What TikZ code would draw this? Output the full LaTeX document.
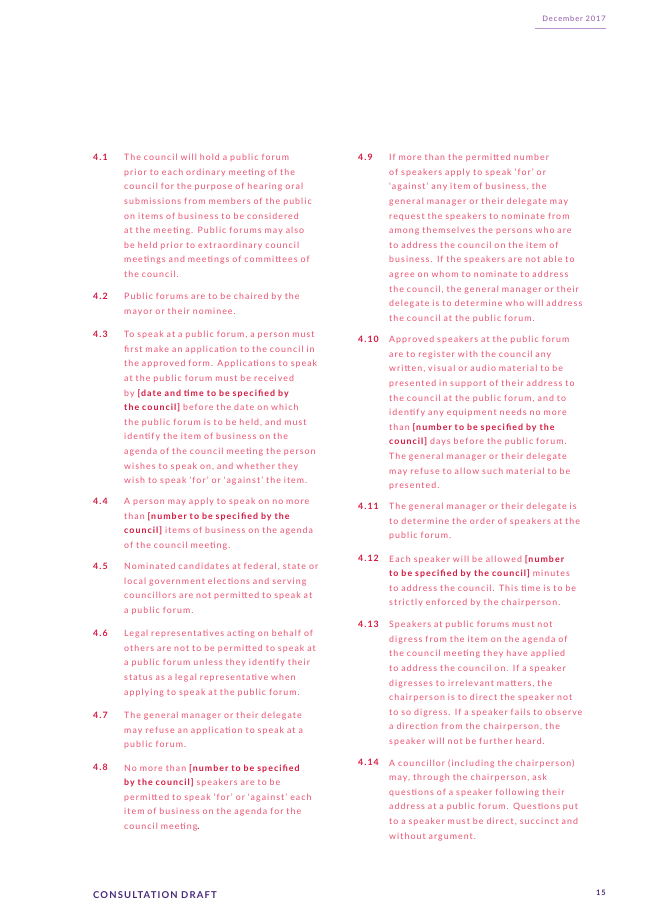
\documentclass[tikz,border=0pt]{standalone}
\usepackage{fontspec}
\setmainfont{Lato}[LetterSpace=12]
\definecolor{body}{HTML}{E8506E}
\definecolor{bold}{HTML}{D4173F}
\definecolor{purp}{HTML}{8B4FA8}
\definecolor{navy}{HTML}{4A2A7A}
\newcommand{\bb}[1]{{\bfseries\color{bold}#1}}
\tikzset{x=1pt,y=-1pt,
 num/.style={anchor=north west,inner sep=0pt,font=\fontsize{8.8}{14.6}\selectfont\bfseries,text=bold},
 txt/.style={anchor=north west,inner sep=0pt,align=left,text width=245pt,font=\fontsize{8.8}{14.6}\selectfont,text=body}}
\begin{document}
\begin{tikzpicture}
\useasboundingbox (0,0) rectangle (653,924);
\node[anchor=east,inner sep=0pt,font=\fontsize{7.5}{9}\selectfont,text=purp] (hd) at (606,19) {December 2017};
\draw[purp!60,line width=0.8pt] (535,28) -- (606,28);
\node[anchor=west,inner sep=0pt,font=\fontsize{9.5}{11}\selectfont\bfseries,text=navy] (ft) at (93,895) {CONSULTATION DRAFT};
\node[anchor=east,inner sep=0pt,font=\fontsize{7.5}{9}\selectfont\bfseries,text=navy] (pg) at (606,893) {15};
% left column
\node[num] (n41) at (93,154) {4.1};
\node[txt] (t41) at (124,154) {The council will hold a public forum\\prior to each ordinary meeting of the\\council for the purpose of hearing oral\\submissions from members of the public\\on items of business to be considered\\at the meeting. Public forums may also\\be held prior to extraordinary council\\meetings and meetings of committees of\\the council.};
\node[num] (n42) at (93,293) {4.2};
\node[txt] (t42) at (124,293) {Public forums are to be chaired by the\\mayor or their nominee.};
\node[num] (n43) at (93,331) {4.3};
\node[txt] (t43) at (124,331) {To speak at a public forum, a person must\\first make an application to the council in\\the approved form. Applications to speak\\at the public forum must be received\\by \bb{[date and time to be specified by}\\\bb{the council]} before the date on which\\the public forum is to be held, and must\\identify the item of business on the\\agenda of the council meeting the person\\wishes to speak on, and whether they\\wish to speak ‘for’ or ‘against’ the item.};
\node[num] (n44) at (93,498) {4.4};
\node[txt] (t44) at (124,498) {A person may apply to speak on no more\\than \bb{[number to be specified by the}\\\bb{council]} items of business on the agenda\\of the council meeting.};
\node[num] (n45) at (93,563) {4.5};
\node[txt] (t45) at (124,563) {Nominated candidates at federal, state or\\local government elections and serving\\councillors are not permitted to speak at\\a public forum.};
\node[num] (n46) at (93,630) {4.6};
\node[txt] (t46) at (124,630) {Legal representatives acting on behalf of\\others are not to be permitted to speak at\\a public forum unless they identify their\\status as a legal representative when\\applying to speak at the public forum.};
\node[num] (n47) at (93,712) {4.7};
\node[txt] (t47) at (124,712) {The general manager or their delegate\\may refuse an application to speak at a\\public forum.};
\node[num] (n48) at (93,764) {4.8};
\node[txt] (t48) at (124,764) {No more than \bb{[number to be specified}\\\bb{by the council]} speakers are to be\\permitted to speak ‘for’ or ‘against’ each\\item of business on the agenda for the\\council meeting\bb{.}};
% right column
\node[num] (n49) at (358,154) {4.9};
\node[txt] (t49) at (389,154) {If more than the permitted number\\of speakers apply to speak ‘for’ or\\‘against’ any item of business, the\\general manager or their delegate may\\request the speakers to nominate from\\among themselves the persons who are\\to address the council on the item of\\business. If the speakers are not able to\\agree on whom to nominate to address\\the council, the general manager or their\\delegate is to determine who will address\\the council at the public forum.};
\node[num] (n410) at (358,336) {4.10};
\node[txt] (t410) at (389,336) {Approved speakers at the public forum\\are to register with the council any\\written, visual or audio material to be\\presented in support of their address to\\the council at the public forum, and to\\identify any equipment needs no more\\than \bb{[number to be specified by the}\\\bb{council]} days before the public forum.\\The general manager or their delegate\\may refuse to allow such material to be\\presented.};
\node[num] (n411) at (358,503) {4.11};
\node[txt] (t411) at (389,503) {The general manager or their delegate is\\to determine the order of speakers at the\\public forum.};
\node[num] (n412) at (358,555) {4.12};
\node[txt] (t412) at (389,555) {Each speaker will be allowed \bb{[number}\\\bb{to be specified by the council]} minutes\\to address the council. This time is to be\\strictly enforced by the chairperson.};
\node[num] (n413) at (358,621) {4.13};
\node[txt] (t413) at (389,621) {Speakers at public forums must not\\digress from the item on the agenda of\\the council meeting they have applied\\to address the council on. If a speaker\\digresses to irrelevant matters, the\\chairperson is to direct the speaker not\\to so digress. If a speaker fails to observe\\a direction from the chairperson, the\\speaker will not be further heard.};
\node[num] (n414) at (358,759) {4.14};
\node[txt] (t414) at (389,759) {A councillor (including the chairperson)\\may, through the chairperson, ask\\questions of a speaker following their\\address at a public forum. Questions put\\to a speaker must be direct, succinct and\\without argument.};
\end{tikzpicture}
\end{document}
